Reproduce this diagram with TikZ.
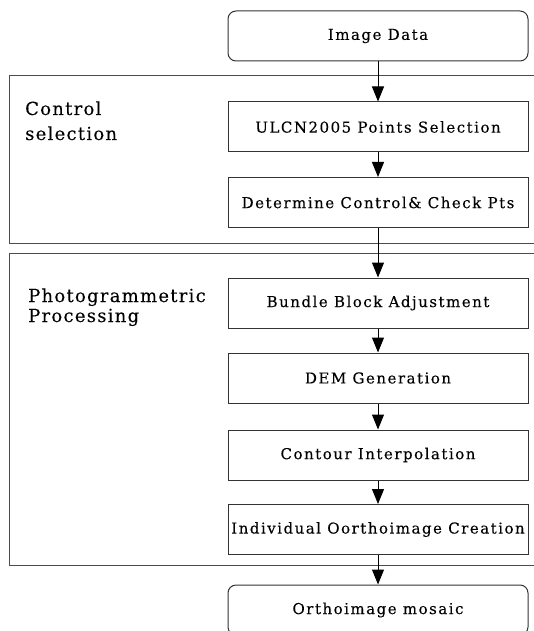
\documentclass[tikz,border=0pt]{standalone}
\usepackage{fontspec}
\setmainfont{DejaVu Serif}
\newfontfamily\boxfont[LetterSpace=10,FakeBold=0.12]{DejaVu Serif}
\newfontfamily\labelfont[LetterSpace=7,FakeBold=0.1]{DejaVu Serif}
\usetikzlibrary{arrows.meta}

\begin{document}
\begin{tikzpicture}[x=1pt,y=-1pt,
  stepbox/.style={draw=black!80, line width=1pt, minimum width=300pt,
    minimum height=50pt, inner sep=0pt,
    font=\boxfont\fontsize{15}{17}\selectfont},
  endbox/.style={stepbox, rounded corners=8pt},
  frame/.style={draw=black!70, line width=1pt},
  flow/.style={draw=black, line width=1pt,
    -{Triangle[length=15pt,width=12pt]}},
  grouplabel/.style={anchor=base west, inner sep=0pt,
    font=\labelfont\fontsize{18}{20}\selectfont}]
\useasboundingbox (0,0) rectangle (533,631);

% group frames (open on the right)
\draw[frame] (534,76) -| (9,243) -- (534,243);
\draw[frame] (534,253) -| (9,565) -- (534,565);

% group labels
\node[grouplabel] (ctl1) at (25,115) {Control};
\node[grouplabel] (ctl2) at (25,140) {selection};
\node[grouplabel] (pg1) at (28,302) {Photogrammetric};
\node[grouplabel] (pg2) at (28,322) {Processing};

% process steps
\node[endbox]  (img)  at (378,36)    {Image Data};
\node[stepbox] (ulcn) at (378,127)   {ULCN2005 Points Selection};
\node[stepbox] (det)  at (378,202.5) {Determine Control\& Check Pts};
\node[stepbox] (bba)  at (378,303)   {Bundle Block Adjustment};
\node[stepbox] (dem)  at (378,378)   {DEM Generation};
\node[stepbox] (cont) at (378,455)   {Contour Interpolation};
\node[stepbox] (orth) at (378,529.5) {Individual Oorthoimage Creation};
\node[endbox]  (mos)  at (378,610)   {Orthoimage mosaic};

% flow
\draw[flow] (img) -- (ulcn);
\draw[flow] (ulcn) -- (det);
\draw[flow] (det) -- (bba);
\draw[flow] (bba) -- (dem);
\draw[flow] (dem) -- (cont);
\draw[flow] (cont) -- (orth);
\draw[flow] (orth) -- (mos);
\end{tikzpicture}
\end{document}
